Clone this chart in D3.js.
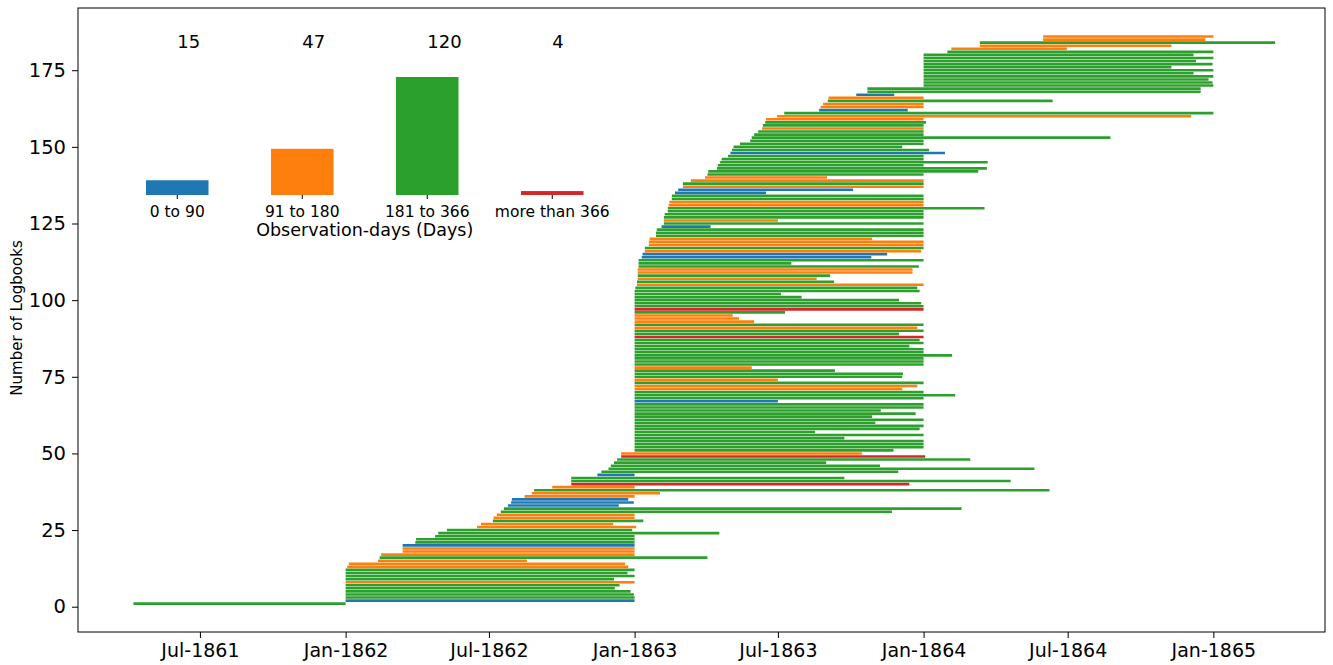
<!DOCTYPE html>
<html><head><meta charset="utf-8">
<script src="https://cdn.jsdelivr.net/npm/d3@7"></script>
<style>body{margin:0;background:#fff}svg{display:block;font-family:"DejaVu Sans",sans-serif}</style>
</head><body><svg id="c" width="1333" height="665"></svg>
<script>
const groupLabels = ["0 to 90","91 to 180","181 to 366","more than 366"];
const groupCounts = [15,47,120,4];
const groupColors = ["#1f77b4","#ff7f0e","#2ca02c","#d62728"];
const yTicks = [0,25,50,75,100,125,150,175];
const xTickDates = ["1861-07-01","1862-01-01","1862-07-01","1863-01-01","1863-07-01","1864-01-01","1864-07-01","1865-01-01"];

// one entry per logbook, rows 1..186 (bottom to top)
const logStart = [
"1861-04-08","1862-01-01","1862-01-01","1862-01-01","1862-01-01","1862-01-01","1862-01-01","1862-01-01","1862-01-01","1862-01-01",
"1862-01-01","1862-01-01","1862-01-03","1862-01-05","1862-02-11","1862-02-13","1862-02-15","1862-03-14","1862-03-14","1862-03-14",
"1862-03-30","1862-03-31","1862-04-24","1862-04-28","1862-05-09","1862-06-16","1862-06-21","1862-07-06","1862-07-07","1862-07-11",
"1862-07-16","1862-07-20","1862-07-25","1862-07-29","1862-07-30","1862-08-15","1862-08-24","1862-08-27","1862-09-19","1862-10-13",
"1862-10-13","1862-10-13","1862-11-15","1862-11-20","1862-11-29","1862-12-02","1862-12-06","1862-12-10","1862-12-15","1862-12-15",
"1863-01-01","1863-01-01","1863-01-01","1863-01-01","1863-01-01","1863-01-01","1863-01-01","1863-01-01","1863-01-01","1863-01-01",
"1863-01-01","1863-01-01","1863-01-01","1863-01-01","1863-01-01","1863-01-01","1863-01-01","1863-01-01","1863-01-01","1863-01-01",
"1863-01-01","1863-01-01","1863-01-01","1863-01-01","1863-01-01","1863-01-01","1863-01-01","1863-01-01","1863-01-01","1863-01-01",
"1863-01-01","1863-01-01","1863-01-01","1863-01-01","1863-01-01","1863-01-01","1863-01-01","1863-01-01","1863-01-01","1863-01-01",
"1863-01-01","1863-01-01","1863-01-01","1863-01-01","1863-01-01","1863-01-01","1863-01-01","1863-01-01","1863-01-01","1863-01-01",
"1863-01-01","1863-01-01","1863-01-01","1863-01-02","1863-01-04","1863-01-04","1863-01-05","1863-01-05","1863-01-05","1863-01-05",
"1863-01-06","1863-01-06","1863-01-06","1863-01-10","1863-01-11","1863-01-14","1863-01-14","1863-01-19","1863-01-19","1863-01-20",
"1863-01-28","1863-01-28","1863-01-29","1863-02-04","1863-02-07","1863-02-07","1863-02-07","1863-02-08","1863-02-12","1863-02-12",
"1863-02-13","1863-02-14","1863-02-17","1863-02-17","1863-02-21","1863-02-25","1863-03-03","1863-03-03","1863-03-13","1863-03-31",
"1863-04-03","1863-04-04","1863-04-15","1863-04-16","1863-04-19","1863-04-21","1863-04-29","1863-05-02","1863-05-04","1863-05-06",
"1863-05-14","1863-05-27","1863-05-29","1863-06-01","1863-06-06","1863-06-11","1863-06-12","1863-06-15","1863-06-16","1863-06-30",
"1863-07-09","1863-08-22","1863-08-24","1863-08-27","1863-09-02","1863-09-03","1863-10-08","1863-10-22","1863-10-22","1864-01-01",
"1864-01-01","1864-01-01","1864-01-01","1864-01-01","1864-01-01","1864-01-01","1864-01-01","1864-01-01","1864-01-01","1864-01-01",
"1864-01-31","1864-02-05","1864-03-12","1864-03-12","1864-05-31","1864-05-31"];

const logEnd = [
"1862-01-01","1863-01-01","1863-01-01","1862-12-31","1862-12-27","1862-12-07","1862-12-13","1863-01-01","1862-12-06","1863-01-01",
"1862-12-23","1863-01-01","1862-12-24","1862-12-20","1862-08-18","1863-04-03","1863-01-01","1863-01-01","1863-01-01","1863-01-01",
"1863-01-01","1863-01-01","1863-01-01","1863-04-18","1862-12-29","1863-01-03","1862-12-05","1863-01-12","1863-01-01","1863-01-01",
"1863-11-22","1864-02-18","1862-12-12","1862-12-31","1862-12-24","1863-01-01","1863-02-02","1864-06-08","1863-01-01","1863-12-14",
"1864-04-20","1863-09-23","1863-01-01","1863-11-30","1864-05-20","1863-11-07","1863-08-31","1864-02-29","1864-01-03","1863-10-15",
"1863-11-24","1864-01-01","1864-01-01","1864-01-01","1863-09-23","1864-01-01","1863-08-17","1863-12-27","1864-01-01","1863-11-01",
"1864-01-01","1863-10-28","1863-12-22","1863-11-08","1864-01-01","1864-01-01","1863-07-01","1864-01-01","1864-02-10","1864-01-01",
"1863-12-05","1863-12-24","1864-01-01","1863-07-01","1863-12-05","1863-12-06","1863-09-11","1863-05-29","1864-01-01","1864-01-01",
"1864-01-01","1864-02-06","1864-01-01","1864-01-01","1863-12-14","1864-01-01","1863-12-27","1864-01-01","1863-12-01","1864-01-01",
"1863-12-24","1864-01-01","1863-06-01","1863-05-13","1863-05-05","1863-07-10","1864-01-01","1864-01-01","1863-12-29","1863-12-01",
"1863-07-31","1863-07-05","1863-12-27","1863-12-24","1864-01-01","1863-09-10","1863-08-19","1863-09-05","1863-12-18","1863-12-18",
"1863-12-26","1863-07-18","1864-01-01","1863-10-27","1863-11-16","1863-12-29","1864-01-01","1864-01-01","1864-01-01","1863-10-28",
"1864-01-01","1864-01-01","1864-01-01","1863-04-07","1864-01-01","1863-07-01","1864-01-01","1864-01-01","1864-01-01","1864-03-18",
"1864-01-01","1864-01-01","1864-01-01","1864-01-01","1863-06-16","1863-10-04","1864-01-01","1864-01-01","1864-01-01","1863-09-01",
"1864-01-01","1864-03-10","1864-03-21","1864-01-01","1864-03-22","1864-01-01","1864-01-01","1864-01-28","1864-01-08","1863-12-05",
"1864-01-01","1864-01-01","1864-08-24","1864-01-01","1864-01-01","1864-01-01","1864-01-01","1864-01-04","1864-01-01","1864-12-04",
"1865-01-01","1863-12-12","1864-01-01","1864-01-01","1864-06-12","1864-01-01","1863-11-25","1864-12-16","1864-12-16","1865-01-01",
"1864-12-31","1864-12-26","1865-01-01","1864-12-07","1865-01-01","1864-11-09","1864-12-31","1864-12-10","1865-01-01","1864-12-07",
"1865-01-01","1864-06-30","1864-11-09","1865-03-20","1864-12-22","1865-01-01"];

// observation-days group: 0 = "0 to 90", 1 = "91 to 180", 2 = "181 to 366", 3 = "more than 366"
const logGroup = [
2,0,2,2,2,2,2,1,2,2, 2,2,1,1,1,2,1,1,1,0,
2,2,2,2,2,1,1,2,1,1, 2,2,0,0,0,1,1,2,1,3,
2,2,0,2,2,2,2,2,3,1, 2,2,2,2,2,2,2,2,2,2,
2,2,2,2,2,2,0,2,2,2, 1,1,2,1,2,2,2,1,2,2,
2,2,2,2,2,2,2,3,2,2, 1,2,1,1,1,2,3,2,2,2,
2,2,2,2,1,2,1,2,1,1, 2,2,2,0,0,1,2,1,1,1,
2,2,2,0,2,1,2,2,2,2, 1,1,2,2,0,0,1,2,1,1,
2,2,2,2,2,2,2,0,2,2, 2,2,2,2,2,1,2,2,1,1,
2,0,1,1,2,1,0,2,2,2, 2,2,2,2,2,2,2,2,2,2,
2,1,1,2,1,1];

const parse = d3.utcParse("%Y-%m-%d");
const rows = logStart.map((s, i) => ({row: i + 1, start: parse(s), end: parse(logEnd[i]), g: logGroup[i]}));

const svg = d3.select("#c");
svg.append("rect").attr("width", 1333).attr("height", 665).attr("fill", "#fff");

const L = 78, R = 1325, T = 8, B = 632;
const x = d3.scaleUtc().domain([parse("1861-01-28"), parse("1865-05-22")]).range([L, R]);
const y = d3.scaleLinear().domain([-8.25, 195.3]).range([B, T]);
const color = d3.scaleOrdinal().domain([0,1,2,3]).range(groupColors);

// logbook lines
svg.append("g").selectAll("line").data(rows).join("line")
  .attr("x1", d => x(d.start)).attr("x2", d => x(d.end))
  .attr("y1", d => y(d.row)).attr("y2", d => y(d.row))
  .attr("stroke", d => color(d.g)).attr("stroke-width", 2.6);

// axes
const xAxis = svg.append("g").attr("transform", `translate(0,${B})`)
  .call(d3.axisBottom(x).tickValues(xTickDates.map(parse)).tickFormat(d3.utcFormat("%b-%Y")).tickSize(6).tickPadding(6));
const yAxis = svg.append("g").attr("transform", `translate(${L},0)`)
  .call(d3.axisLeft(y).tickValues(yTicks).tickSize(6).tickPadding(6));
[xAxis, yAxis].forEach(a => {
  a.select(".domain").remove();
  a.selectAll("text").attr("font-size", 19).attr("font-family", "DejaVu Sans").attr("fill", "#000");
  a.selectAll("line").attr("stroke", "#000");
});
yAxis.selectAll("text").attr("font-size", 19.5);
svg.append("rect").attr("x", L).attr("y", T).attr("width", R - L).attr("height", B - T)
  .attr("fill", "none").attr("stroke", "#000").attr("stroke-width", 1);

svg.append("text").attr("transform", `translate(22,${(T + B) / 2 - 2}) rotate(-90)`)
  .attr("text-anchor", "middle").attr("font-size", 15).attr("fill", "#000").text("Number of Logbooks");

// inset bar chart
const ix = d3.scaleBand().domain(groupLabels).range([83.5, 646]).padding(0.5);
const iy = d3.scaleLinear().domain([0, 120]).range([195, 77]);
const inset = svg.append("g");
inset.selectAll("rect").data(groupLabels).join("rect")
  .attr("x", d => ix(d)).attr("width", ix.bandwidth())
  .attr("y", (d, i) => iy(groupCounts[i])).attr("height", (d, i) => iy(0) - iy(groupCounts[i]))
  .attr("fill", (d, i) => groupColors[i]);
inset.selectAll("text.cnt").data(groupLabels).join("text").attr("class", "cnt")
  .attr("x", d => ix(d) + ix.bandwidth() / 2).attr("y", 48)
  .attr("font-size", 18).attr("fill", "#000").text((d, i) => groupCounts[i]);
inset.selectAll("line.tk").data(groupLabels).join("line").attr("class", "tk")
  .attr("x1", d => ix(d) + ix.bandwidth() / 2).attr("x2", d => ix(d) + ix.bandwidth() / 2)
  .attr("y1", 195).attr("y2", 199).attr("stroke", "#000");
inset.selectAll("text.lab").data(groupLabels).join("text").attr("class", "lab")
  .attr("x", d => ix(d) + ix.bandwidth() / 2).attr("y", 217).attr("text-anchor", "middle")
  .attr("font-size", 15.5).attr("fill", "#000").text(d => d);
inset.append("text").attr("x", (83.5 + 646) / 2).attr("y", 236).attr("text-anchor", "middle")
  .attr("font-size", 17.5).attr("fill", "#000").text("Observation-days (Days)");
</script></body></html>
